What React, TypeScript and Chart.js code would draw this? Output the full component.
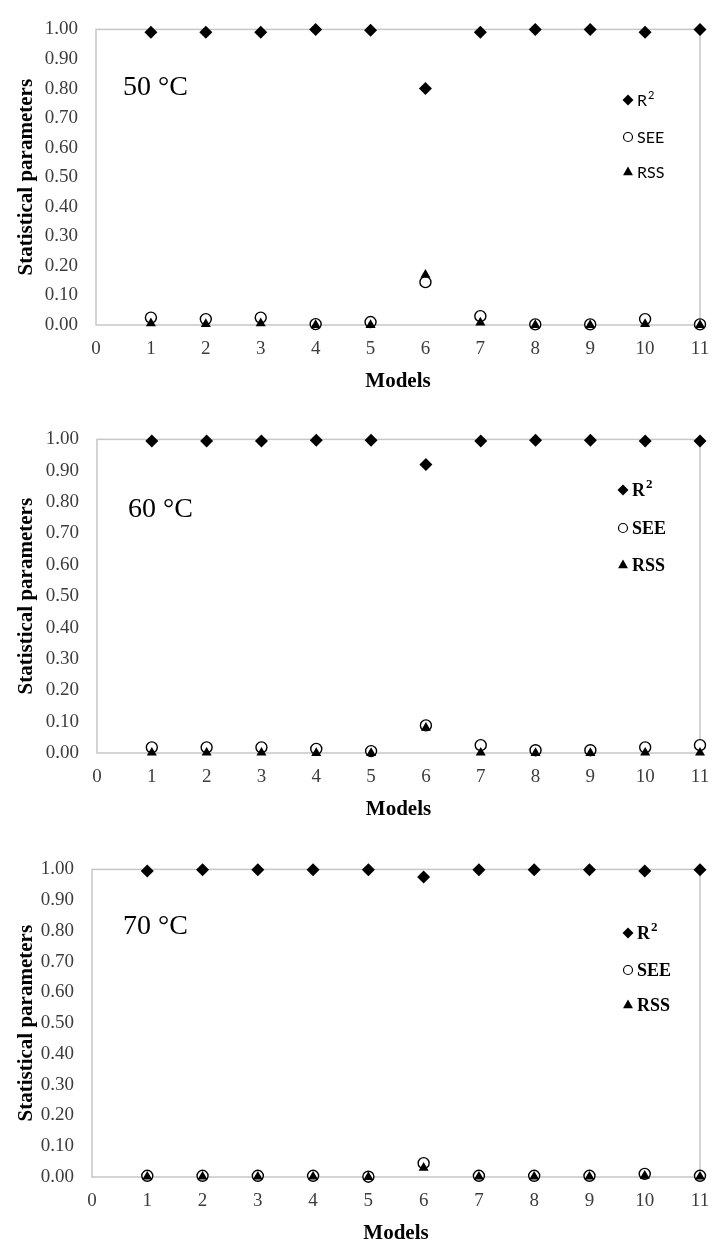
import React, { useEffect, useRef } from 'react';
import { Chart, registerables } from 'chart.js';

Chart.register(...registerables);

// ---------- data ----------
const models = [1, 2, 3, 4, 5, 6, 7, 8, 9, 10, 11];
const xTickValues = [0, 1, 2, 3, 4, 5, 6, 7, 8, 9, 10, 11];
const yTickValues = [0, 0.1, 0.2, 0.3, 0.4, 0.5, 0.6, 0.7, 0.8, 0.9, 1.0];
const seriesNames = ['R', 'SEE', 'RSS'];
const temperatures = ['50 °C', '60 °C', '70 °C'];

const r2_50 = [0.990, 0.990, 0.990, 1.000, 0.997, 0.800, 0.990, 1.000, 1.000, 0.990, 1.000];
const see_50 = [0.025, 0.020, 0.025, 0.003, 0.010, 0.145, 0.030, 0.002, 0.002, 0.020, 0.002];
const rss_50 = [0.006, 0.003, 0.006, 0.000, 0.000, 0.170, 0.008, 0.000, 0.000, 0.003, 0.000];

const r2_60 = [0.995, 0.995, 0.995, 0.997, 0.997, 0.920, 0.995, 0.997, 0.997, 0.995, 0.995];
const see_60 = [0.018, 0.018, 0.018, 0.013, 0.006, 0.088, 0.025, 0.009, 0.009, 0.018, 0.025];
const rss_60 = [0.001, 0.001, 0.001, 0.000, 0.000, 0.080, 0.001, 0.000, 0.000, 0.001, 0.001];

const r2_70 = [0.995, 0.999, 0.999, 0.999, 0.999, 0.975, 0.999, 0.999, 0.999, 0.995, 0.999];
const see_70 = [0.004, 0.004, 0.004, 0.004, 0.001, 0.045, 0.004, 0.004, 0.004, 0.010, 0.004];
const rss_70 = [0.001, 0.001, 0.001, 0.001, 0.000, 0.030, 0.001, 0.001, 0.001, 0.004, 0.001];

// ---------- layout / style ----------
const W = 727;
const SERIF = '"Liberation Serif", "Times New Roman", serif';
const TITLE_SIZE = 21;
const TICK_SIZE = 19;

type Panel = {
  r2: number[]; see: number[]; rss: number[]; temp: string;
  top: number; height: number; plotTop: number; plotBottom: number; plotLeft: number;
  tempX: number; tempY: number;
  legX: number; legY: number[]; legFont: string; legBold: boolean; legSize: number;
};

const panels: Panel[] = [
  { r2: r2_50, see: see_50, rss: rss_50, temp: temperatures[0],
    top: 0, height: 410, plotTop: 20, plotBottom: 325, plotLeft: 96,
    tempX: 123, tempY: 88, legX: 628, legY: [100, 137, 172],
    legFont: 'Lato, "Open Sans", sans-serif', legBold: false, legSize: 16 },
  { r2: r2_60, see: see_60, rss: rss_60, temp: temperatures[1],
    top: 410, height: 430, plotTop: 27, plotBottom: 343, plotLeft: 97,
    tempX: 128, tempY: 510 - 410, legX: 623, legY: [490 - 410, 528 - 410, 565 - 410],
    legFont: SERIF, legBold: true, legSize: 18 },
  { r2: r2_70, see: see_70, rss: rss_70, temp: temperatures[2],
    top: 840, height: 412, plotTop: 22, plotBottom: 337, plotLeft: 92,
    tempX: 123, tempY: 927 - 840, legX: 628, legY: [933 - 840, 970 - 840, 1005 - 840],
    legFont: SERIF, legBold: true, legSize: 18 },
];

const decorPlugin = {
  id: 'decor',
  beforeDatasetsDraw(chart: any, _args: any, opts: any) {
    const { ctx, chartArea } = chart;
    const { left, top, right, bottom } = chartArea;
    ctx.save();
    ctx.strokeStyle = '#c6c6c6';
    ctx.lineWidth = 1.5;
    ctx.strokeRect(left, top, right - left, bottom - top);
    ctx.restore();
  },
  afterDatasetsDraw(chart: any, _args: any, opts: any) {
    const { ctx } = chart;
    ctx.save();
    // temperature label
    ctx.fillStyle = '#000';
    ctx.font = `28px ${SERIF}`;
    ctx.textBaseline = 'middle';
    ctx.textAlign = 'left';
    ctx.fillText(opts.temp, opts.tempX, opts.tempY);

    // legend
    const x = opts.legX;
    const weight = opts.legBold ? 'bold ' : '';
    const size = opts.legSize;
    opts.legY.forEach((y: number, i: number) => {
      ctx.fillStyle = '#000';
      ctx.strokeStyle = '#000';
      ctx.lineWidth = 1.2;
      ctx.beginPath();
      if (i === 0) {
        const r = 5.5;
        ctx.moveTo(x - r, y); ctx.lineTo(x, y - r); ctx.lineTo(x + r, y); ctx.lineTo(x, y + r);
        ctx.closePath(); ctx.fill();
      } else if (i === 1) {
        ctx.fillStyle = '#fff';
        ctx.arc(x, y, 4.5, 0, Math.PI * 2);
        ctx.fill(); ctx.stroke();
      } else {
        const r = 5.5;
        ctx.moveTo(x, y - r);
        ctx.lineTo(x + r * 0.9, y + r * 0.6);
        ctx.lineTo(x - r * 0.9, y + r * 0.6);
        ctx.closePath(); ctx.fill();
      }
      ctx.fillStyle = '#000';
      ctx.font = `${weight}${size}px ${opts.legFont}`;
      ctx.textBaseline = 'middle';
      ctx.textAlign = 'left';
      const tx = x + 9;
      ctx.fillText(seriesNames[i], tx, y + 1);
      if (i === 0) {
        const w = ctx.measureText(seriesNames[i]).width;
        ctx.font = `${weight}${Math.round(size * 0.7)}px ${opts.legFont}`;
        ctx.fillText('2', tx + w + 1, y - 5);
      }
    });
    ctx.restore();
  },
};

function PanelChart({ p }: { p: Panel }) {
  const ref = useRef<HTMLCanvasElement | null>(null);
  useEffect(() => {
    if (!ref.current) return;
    const padLeft = 14;
    const axisH = p.height - p.plotBottom;
    const modelsOffset = 57; // distance of "Models" centre below axis
    const titleLH = TITLE_SIZE * 1.2;
    const titlePadBottom = Math.max(0, axisH - modelsOffset - titleLH / 2);
    const mk = (vals: number[]) => models.map((m, i) => ({ x: m, y: vals[i] }));
    const chart = new Chart(ref.current, {
      type: 'scatter',
      data: {
        datasets: [
          { label: 'R2', data: mk(p.r2), pointStyle: 'rectRot', pointRadius: 6.5,
            backgroundColor: '#000', borderColor: '#000', borderWidth: 0, order: 2, clip: false } as any,
          { label: 'SEE', data: mk(p.see), pointStyle: 'circle', pointRadius: 5.5,
            backgroundColor: '#fff', borderColor: '#000', borderWidth: 1.4, order: 1, clip: false } as any,
          { label: 'RSS', data: mk(p.rss), pointStyle: 'triangle', pointRadius: 5.8,
            backgroundColor: '#000', borderColor: '#000', borderWidth: 0, order: 0, clip: false } as any,
        ],
      },
      options: {
        animation: false,
        responsive: false,
        events: [],
        layout: { padding: { left: padLeft, top: p.plotTop, right: W - 700, bottom: 0 } },
        plugins: {
          legend: { display: false },
          tooltip: { enabled: false },
          decor: { temp: p.temp, tempX: p.tempX, tempY: p.tempY, legX: p.legX, legY: p.legY,
            legFont: p.legFont, legBold: p.legBold, legSize: p.legSize },
        } as any,
        scales: {
          x: {
            type: 'linear', min: 0, max: 11,
            afterBuildTicks: (s: any) => { s.ticks = xTickValues.map((v) => ({ value: v })); },
            afterFit: (s: any) => { s.height = axisH; },
            grid: { display: false, drawTicks: false },
            border: { display: false },
            ticks: { color: '#3c3c3c', font: { family: SERIF, size: TICK_SIZE }, padding: 13,
              autoSkip: false, maxRotation: 0, callback: (v: any) => String(v) },
            title: { display: true, text: 'Models', color: '#000',
              font: { family: SERIF, size: TITLE_SIZE, weight: 'bold' },
              padding: { top: 0, bottom: titlePadBottom } },
          },
          y: {
            type: 'linear', min: 0, max: 1,
            afterBuildTicks: (s: any) => { s.ticks = yTickValues.map((v) => ({ value: v })); },
            afterFit: (s: any) => { s.width = p.plotLeft - padLeft; },
            grid: { display: false, drawTicks: false },
            border: { display: false },
            ticks: { color: '#3c3c3c', font: { family: SERIF, size: TICK_SIZE }, padding: 18,
              callback: (v: any) => Number(v).toFixed(2) },
            title: { display: true, text: 'Statistical parameters', color: '#000',
              font: { family: SERIF, size: TITLE_SIZE, weight: 'bold' }, padding: { top: 0, bottom: 0 } },
          },
        },
      } as any,
      plugins: [decorPlugin],
    });
    return () => chart.destroy();
  }, [p]);
  return (
    <canvas ref={ref} width={W} height={p.height}
      style={{ position: 'absolute', left: 0, top: p.top, width: W, height: p.height }} />
  );
}

export default function App() {
  return (
    <div style={{ position: 'absolute', left: 0, top: 0, width: W, height: 1252, background: '#fff', overflow: 'hidden' }}>
      {panels.map((p, i) => <PanelChart key={i} p={p} />)}
    </div>
  );
}
